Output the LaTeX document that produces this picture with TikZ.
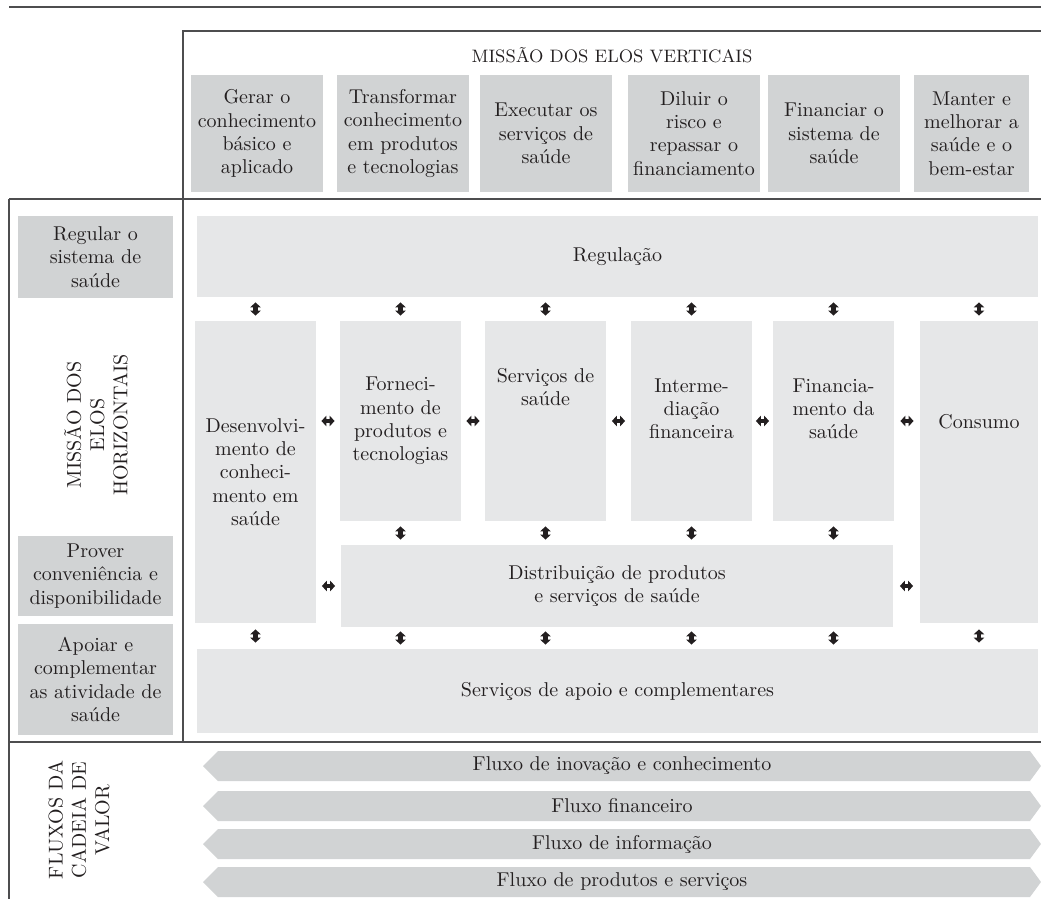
\documentclass[tikz,border=0pt]{standalone}
\usepackage{fontspec}
\usepackage{tikz}
\usetikzlibrary{arrows.meta,calc}

\definecolor{boxdark}{HTML}{D1D3D4}
\definecolor{boxlight}{HTML}{E6E7E8}
\definecolor{ink}{HTML}{231F20}
\definecolor{rulegray}{HTML}{4D4D4F}

\begin{document}
\begin{tikzpicture}[x=0.5pt,y=-0.5pt,text=ink,font=\fontsize{10}{11.6}\selectfont,
  mission node/.style={fill=boxdark,inner sep=0pt,align=center},
  chain node/.style={fill=boxlight,inner sep=0pt,align=center},
  label node/.style={inner sep=0pt,align=center},
  frame line/.style={draw=rulegray,line width=0.6pt},
  link/.style={{Triangle[width=5.2pt,length=2.5pt]}-{Triangle[width=5.2pt,length=2.5pt]},
    line width=2.2pt,color=ink,
    to path={($(\tikztostart)!.5!(\tikztotarget)!3.3pt!(\tikztostart)$)
      -- ($(\tikztostart)!.5!(\tikztotarget)!3.3pt!(\tikztotarget)$)}},
  flow band/.style={fill=boxdark}]

  \useasboundingbox (0,0) rectangle (1041,899);

  % frame
  \draw[frame line] (9,7) -- (1041,7);
  \draw[frame line] (183,742) -- (183,31) -- (1041,31);
  \draw[frame line] (9,199) -- (1041,199);
  \draw[frame line] (9,899) -- (9,199);
  \draw[frame line] (9,742) -- (1041,742);

  % elos verticais
  \node[label node,font=\small] (vtitle) at (612,55) {MISSÃO DOS ELOS VERTICAIS};
  \node[mission node,minimum width=66pt,minimum height=58.5pt] (v1) at (257,133.5) {Gerar o\\conhecimento\\básico e\\aplicado};
  \node[mission node,minimum width=66pt,minimum height=58.5pt] (v2) at (403,133.5) {Transformar\\conhecimento\\em produtos\\e tecnologias};
  \node[mission node,minimum width=66pt,minimum height=58.5pt] (v3) at (546,133.5) {Executar os\\serviços de\\saúde};
  \node[mission node,minimum width=66pt,minimum height=58.5pt] (v4) at (694,133.5) {Diluir o\\risco e\\repassar o\\financiamento};
  \node[mission node,minimum width=66pt,minimum height=58.5pt] (v5) at (834,133.5) {Financiar o\\sistema de\\saúde};
  \node[mission node,minimum width=57.5pt,minimum height=58.5pt] (v6) at (971.5,133.5) {Manter e\\melhorar a\\saúde e o\\bem-estar};

  % elos horizontais
  \node[mission node,minimum width=77.5pt,minimum height=41pt] (h1) at (95.5,257) {Regular o\\sistema de\\saúde};
  \node[label node,rotate=90] (htitle) at (96,425) {MISSÃO DOS\\ELOS\\HORIZONTAIS};
  \node[mission node,minimum width=77.5pt,minimum height=40pt] (h2) at (95.5,576) {Prover\\conveniência e\\disponibilidade};
  \node[mission node,minimum width=77.5pt,minimum height=55.5pt] (h3) at (95.5,679.5) {Apoiar e\\complementar\\as atividade de\\saúde};

  % cadeia
  \node[chain node,minimum width=420.5pt,minimum height=40.5pt] (reg) at (617.5,256.5) {Regulação};
  \node[chain node,minimum width=60.5pt,minimum height=151pt] (des) at (255.5,472) {Desenvolvi-\\mento de\\conheci-\\mento em\\saúde};
  \node[chain node,minimum width=60.5pt,minimum height=100pt] (forn) at (400.5,421) {Forneci-\\mento de\\produtos e\\tecnologias};
  \node[chain node,minimum width=60.5pt,minimum height=100pt] (serv) at (545.5,421) {};
  \node[chain node,minimum width=60.5pt,minimum height=100pt] (inter) at (691.5,421) {};
  \node[chain node,minimum width=60.5pt,minimum height=100pt] (fin) at (833.5,421) {};
  \node[chain node,minimum width=59pt,minimum height=151pt] (cons) at (979,472) {};
  \node[chain node,minimum width=276pt,minimum height=41pt] (dist) at (617,586) {Distribuição de produtos\\e serviços de saúde};
  \node[chain node,minimum width=420.5pt,minimum height=42pt] (apoio) at (617.5,691) {Serviços de apoio e complementares};

  \node[label node] (servt) at ([yshift=17pt]serv.center) {Serviços de\\saúde};
  \node[label node] (intert) at ([yshift=6pt]inter.center) {Interme-\\diação\\financeira};
  \node[label node] (fint) at ([yshift=6pt]fin.center) {Financia-\\mento da\\saúde};
  \node[label node] (const) at ([yshift=25pt]cons.center) {Consumo};

  \path[link]
    (des.north) edge (des.north |- reg.south)
    (forn.north) edge (forn.north |- reg.south)
    (serv.north) edge (serv.north |- reg.south)
    (inter.north) edge (inter.north |- reg.south)
    (fin.north) edge (fin.north |- reg.south)
    (cons.north) edge (cons.north |- reg.south)

    (forn.west -| des.east) edge (forn.west)
    (forn.east) edge (serv.west)
    (serv.east) edge (inter.west)
    (inter.east) edge (fin.west)
    (fin.east) edge (fin.east -| cons.west)

    (forn.south) edge (forn.south |- dist.north)
    (serv.south) edge (serv.south |- dist.north)
    (inter.south) edge (inter.south |- dist.north)
    (fin.south) edge (fin.south |- dist.north)

    (dist.west -| des.east) edge (dist.west)
    (dist.east) edge (dist.east -| cons.west)

    (des.south) edge (des.south |- apoio.north)
    (forn |- dist.south) edge (forn |- apoio.north)
    (serv |- dist.south) edge (serv |- apoio.north)
    (inter |- dist.south) edge (inter |- apoio.north)
    (fin |- dist.south) edge (fin |- apoio.north)
    (cons.south) edge (cons.south |- apoio.north);

  % fluxos
  \node[label node,rotate=90] (ftitle) at (79,820) {FLUXOS DA\\CADEIA DE\\VALOR};
  \fill[flow band] (203,766) -- (218,751) -- (1030,751) -- (1041,766) -- (1030,781) -- (218,781) -- cycle;
  \node[label node] (flow1) at (622,766) {Fluxo de inovação e conhecimento};
  \fill[flow band] (203,806) -- (218,791) -- (1030,791) -- (1041,806) -- (1030,821) -- (218,821) -- cycle;
  \node[label node] (flow2) at (622,806) {Fluxo financeiro};
  \fill[flow band] (203,844) -- (218,829) -- (1030,829) -- (1041,844) -- (1030,859) -- (218,859) -- cycle;
  \node[label node] (flow3) at (622,844) {Fluxo de informação};
  \fill[flow band] (203,882) -- (218,867) -- (1030,867) -- (1041,882) -- (1030,897) -- (218,897) -- cycle;
  \node[label node] (flow4) at (622,882) {Fluxo de produtos e serviços};
\end{tikzpicture}
\end{document}
